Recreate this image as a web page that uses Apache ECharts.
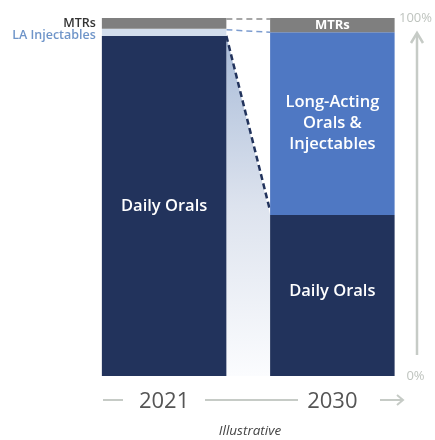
<!DOCTYPE html>
<html>
<head>
<meta charset="utf-8">
<script src="https://cdn.jsdelivr.net/npm/echarts@6/dist/echarts.min.js"></script>
<style>html,body{margin:0;padding:0;background:#fff}#c{width:435px;height:440px}</style>
</head>
<body>
<div id="c"></div>
<script>
const categories = ['2021', '2030'];
const dailyOrals = [95, 45];
const longActing = [2, 51];
const mtrs = [3, 4];
const yTicks = [0, 100];
const longActingLabels = ['LA Injectables', 'Long-Acting\nOrals &\nInjectables'];
const mtrLabel = 'MTRs';
const dailyLabel = 'Daily Orals';
const footnote = 'Illustrative';

const FONT = 'Open Sans';
const NAVY = '#22335c';
const BLUE = '#4f78c3';
const PALE = '#d3deec';
const GRAY = '#7f7f7f';
const AXISC = '#c6cbc6';
const BARW = 0.74;

const chart = echarts.init(document.getElementById('c'), null, {renderer: 'canvas'});

const option = {
  animation: false,
  textStyle: {fontFamily: FONT},
  grid: {left: 80, right: 17, top: 18, bottom: 64},
  xAxis: {
    type: 'category', data: categories,
    axisLine: {show: false}, axisTick: {show: false},
    axisLabel: {fontSize: 22, color: '#555', margin: 15, fontFamily: FONT}
  },
  yAxis: {
    type: 'value', position: 'right', min: yTicks[0], max: yTicks[1], interval: yTicks[1] - yTicks[0],
    axisLine: {show: false}, axisTick: {show: false}, splitLine: {show: false},
    axisLabel: {formatter: '{value}%', color: '#bfc4bf', fontSize: 13, align: 'center', margin: -1, fontFamily: FONT}
  },
  graphic: [
    {type: 'line', shape: {x1: 417, y1: 355, x2: 417, y2: 34}, style: {stroke: AXISC, lineWidth: 2.5}},
    {type: 'polyline', shape: {points: [[411, 43], [417, 33], [423, 43]]}, style: {stroke: AXISC, lineWidth: 2.5, fill: null}},
    {type: 'line', shape: {x1: 103, y1: 400, x2: 123, y2: 400}, style: {stroke: AXISC, lineWidth: 2}},
    {type: 'line', shape: {x1: 205, y1: 400, x2: 298, y2: 400}, style: {stroke: AXISC, lineWidth: 2}},
    {type: 'line', shape: {x1: 380, y1: 400, x2: 403, y2: 400}, style: {stroke: AXISC, lineWidth: 2}},
    {type: 'polyline', shape: {points: [[397, 395], [403, 400], [397, 405]]}, style: {stroke: AXISC, lineWidth: 2, fill: null}},
    {type: 'text', x: 250, y: 431, style: {text: footnote, textAlign: 'center', textVerticalAlign: 'middle', fontFamily: FONT, fontSize: 13.5, fontStyle: 'italic', fill: '#444'}}
  ],
  series: [
    {
      type: 'custom', coordinateSystem: 'cartesian2d', z: 1, silent: true,
      data: [[0, 0]],
      renderItem: function (params, api) {
        const hb = api.size([1, 0])[0] * BARW / 2;
        const x1 = api.coord([0, 0])[0] + hb;
        const x2 = api.coord([1, 0])[0] - hb;
        const y = v => api.coord([0, v])[1];
        const top0 = dailyOrals[0] + longActing[0] + mtrs[0];
        const top1 = dailyOrals[1] + longActing[1] + mtrs[1];
        const la0 = dailyOrals[0] + longActing[0];
        const la1 = dailyOrals[1] + longActing[1];
        return {
          type: 'group',
          children: [
            {type: 'polygon', shape: {points: [[x1, y(dailyOrals[0])], [x2, y(dailyOrals[1])], [x2, y(0)], [x1, y(0)]]},
             style: {fill: new echarts.graphic.LinearGradient(0, 0, 0, 1, [{offset: 0, color: '#a8bbd8'}, {offset: 0.5, color: '#dde3ee'}, {offset: 1, color: '#fbfcfe'}])}},
            {type: 'line', shape: {x1: x1, y1: y(top0) + 1, x2: x2, y2: y(top1) + 1}, style: {stroke: '#8a8a8a', lineWidth: 1.5, lineDash: [6, 4]}},
            {type: 'line', shape: {x1: x1, y1: y(la0) + 1, x2: x2, y2: y(la1)}, style: {stroke: '#7c9ccf', lineWidth: 1.5, lineDash: [6, 4]}},
            {type: 'line', shape: {x1: x1, y1: y(dailyOrals[0]), x2: x2, y2: y(dailyOrals[1]) - 4}, style: {stroke: NAVY, lineWidth: 2.5, lineDash: [6, 3.5]}}
          ]
        };
      }
    },
    {
      type: 'bar', stack: 's', barWidth: (BARW * 100) + '%', z: 2,
      data: dailyOrals.map((v, i) => ({value: v, label: {offset: [0, i === 1 ? -4 : 0]}})),
      itemStyle: {color: NAVY},
      label: {show: true, position: 'inside', formatter: dailyLabel, color: '#fff', fontSize: 16.5, fontWeight: 600, fontFamily: FONT}
    },
    {
      type: 'bar', stack: 's', z: 2,
      data: longActing.map((v, i) => i === 0 ? {
        value: v, itemStyle: {color: PALE},
        label: {show: true, position: 'left', distance: 6, offset: [0, 3], formatter: longActingLabels[i], color: '#6f95c9', fontSize: 12.5, fontWeight: 600, fontFamily: FONT}
      } : {
        value: v, itemStyle: {color: BLUE},
        label: {show: true, position: 'inside', formatter: longActingLabels[i], color: '#fff', fontSize: 16.5, fontWeight: 600, lineHeight: 21, fontFamily: FONT}
      })
    },
    {
      type: 'bar', stack: 's', z: 2,
      data: mtrs.map((v, i) => i === 0 ? {
        value: v, itemStyle: {color: GRAY},
        label: {show: true, position: 'left', distance: 6, formatter: mtrLabel, color: '#333', fontSize: 12.5, fontWeight: 600, fontFamily: FONT}
      } : {
        value: v, itemStyle: {color: GRAY},
        label: {show: true, position: 'inside', formatter: mtrLabel, color: '#fff', fontSize: 13, fontWeight: 700, fontFamily: FONT}
      })
    }
  ]
};
chart.setOption(option);
</script>
</body>
</html>
